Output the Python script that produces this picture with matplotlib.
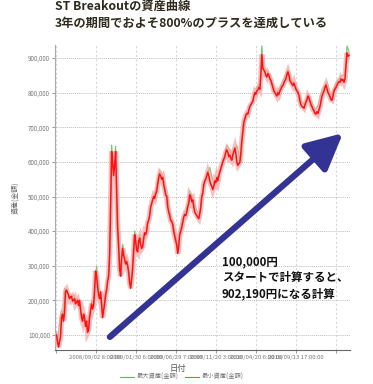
import matplotlib
matplotlib.use("Agg")
import matplotlib.pyplot as plt
from matplotlib.lines import Line2D

plt.rcParams['font.family'] = ['Noto Sans CJK JP', 'DejaVu Sans']

# minimum equity per bar (thousands of yen), bars 1..293, ticks every 40 bars
eq_min = [100, 80, 65, 80, 95, 150, 160, 140, 165, 225, 230, 222, 215, 205, 210, 212, 198, 200, 205, 190,
          195, 200, 185, 200, 175, 150, 140, 160, 150, 125, 140, 108, 115, 150, 170, 190, 175, 185, 230, 285,
          270, 240, 215, 205, 225, 190, 150, 170, 190, 215, 230, 255, 270, 330, 470, 630, 600, 560, 590, 630,
          520, 415, 360, 290, 270, 320, 350, 330, 320, 305, 312, 300, 280, 250, 235, 260, 292, 340, 390, 370,
          345, 340, 372, 380, 360, 350, 355, 380, 395, 390, 400, 425, 432, 445, 470, 480, 490, 500, 495, 508,
          515, 535, 555, 565, 560, 550, 555, 535, 520, 505, 500, 470, 455, 445, 430, 428, 418, 400, 385, 372,
          360, 335, 355, 390, 400, 410, 425, 440, 448, 445, 455, 470, 480, 505, 500, 485, 490, 470, 455, 450,
          445, 440, 436, 450, 470, 500, 510, 535, 545, 550, 560, 570, 560, 545, 535, 530, 520, 530, 545, 540,
          555, 545, 560, 570, 580, 590, 600, 608, 615, 628, 635, 628, 615, 620, 610, 605, 620, 630, 640, 625,
          600, 590, 595, 598, 625, 662, 690, 715, 725, 735, 740, 738, 750, 760, 765, 770, 775, 790, 800, 795,
          805, 808, 815, 810, 850, 910, 870, 865, 860, 850, 845, 855, 850, 840, 835, 825, 815, 805, 800, 795,
          790, 800, 795, 805, 810, 818, 820, 828, 835, 840, 852, 860, 850, 835, 830, 825, 820, 828, 818, 810,
          805, 800, 792, 775, 765, 760, 758, 755, 765, 772, 780, 790, 785, 775, 765, 760, 752, 748, 740, 738,
          745, 740, 750, 760, 775, 790, 798, 805, 815, 822, 812, 800, 795, 788, 780, 778, 790, 805, 810, 815,
          822, 828, 832, 830, 840, 835, 838, 830, 840, 880, 915, 905, 908]
bars = list(range(1, len(eq_min) + 1))

# maximum equity, read at coarser bar spacing
max_bars = [1, 2, 4, 6, 8, 9, 12, 15, 18, 20, 22, 24, 26, 28, 30, 32, 34, 36, 38, 41,
            44, 47, 49, 51, 53, 54, 55, 56, 58, 60, 61, 62, 64, 67, 69, 72, 75, 77, 79, 82,
            84, 87, 91, 94, 97, 101, 104, 107, 111, 114, 117, 120, 122, 124, 127, 131, 134, 137, 141, 144,
            147, 151, 154, 157, 159, 162, 166, 169, 171, 174, 177, 181, 184, 185, 187, 191, 194, 197, 201, 204,
            206, 207, 211, 214, 217, 221, 224, 227, 231, 232, 236, 239, 242, 246, 249, 252, 256, 259, 262, 266,
            271, 274, 276, 279, 282, 286, 289, 291, 293]
eq_max = [108, 75, 132, 170, 158, 235, 222, 206, 216, 198, 206, 182, 152, 162, 132, 117, 158, 200, 188, 298,
          218, 160, 208, 238, 276, 338, 480, 648, 578, 645, 430, 375, 282, 362, 330, 312, 245, 304, 400, 352,
          390, 358, 410, 448, 495, 524, 576, 564, 515, 458, 428, 388, 344, 402, 440, 468, 515, 496, 458, 446,
          515, 560, 584, 545, 534, 555, 594, 618, 648, 634, 620, 648, 605, 598, 678, 735, 758, 780, 816, 824,
          935, 880, 862, 852, 822, 800, 814, 835, 858, 866, 834, 822, 806, 772, 765, 796, 772, 750, 762, 808,
          830, 800, 792, 822, 838, 850, 850, 935, 918]

tick_bars = [0, 40, 80, 120, 160, 200, 240, 280]
tick_labels = ["", "2008/09/02 8:00:00", "2009/01/30 6:00:00", "2009/06/29 7:00:00",
               "2009/11/20 3:00:00", "2010/04/20 6:00:00", "2010/09/13 17:00:00", ""]
y_ticks = [100000, 200000, 300000, 400000, 500000, 600000, 700000, 800000, 900000]

lo = [v * 1000 for v in eq_min]
hi = [v * 1000 for v in eq_max]

fig = plt.figure(figsize=(3.73, 3.84), dpi=100)
ax = fig.add_axes([0.1475, 0.0885, 0.7909, 0.7943])

ax.plot(max_bars, hi, color="#7cc47c", lw=0.9, zorder=2)
ax.plot(bars, lo, color="#f8a9a9", lw=3.8, alpha=0.75, zorder=3, solid_joinstyle="miter")
ax.plot(bars, lo, color="#ff1111", lw=1.1, zorder=4)

ax.set_xlim(-0.5, 294)
ax.set_ylim(56600, 937600)
ax.set_xticks(tick_bars)
ax.set_xticklabels(tick_labels, fontsize=4.3, color="#777777")
ax.set_yticks(y_ticks)
ax.set_yticklabels([f"{v:,}" for v in y_ticks], fontsize=4.5, color="#777777")
ax.tick_params(length=2, width=0.6, color="#888888", pad=1.5)

ax.grid(axis="x", color="#d8d8d8", ls=(0, (2, 2)), lw=0.8)
ax.grid(axis="y", color="#bdbdbd", ls=(0, (1, 1)), lw=0.7)
for s in ["top", "right"]:
    ax.spines[s].set_visible(False)
ax.spines["left"].set_color("#aaaaaa")
ax.spines["left"].set_linestyle((0, (1, 1)))
ax.spines["bottom"].set_color("#666666")
ax.spines["bottom"].set_linewidth(0.8)

ax.set_ylabel("資産(金額)", fontsize=5, color="#666666")
ax.yaxis.set_label_coords(-0.12, 0.5)
ax.set_xlabel("日付", fontsize=6, color="#555555")
ax.xaxis.set_label_coords(0.415, -0.045)

handles = [Line2D([], [], color="#66b366", lw=0.8), Line2D([], [], color="#ff4d4d", lw=0.8)]
ax.legend(handles, ["最大資産(金額)", "最小資産(金額)"], loc="center", bbox_to_anchor=(0.43, -0.088),
          ncol=2, frameon=False, fontsize=4.5, labelcolor="#777777", handlelength=2.2,
          columnspacing=1.0, handletextpad=0.4)

ax.annotate("", xy=(0.976, 0.711), xytext=(0.186, 0.043), xycoords="axes fraction",
            arrowprops=dict(arrowstyle="-|>,head_length=2.2,head_width=1.1", color="#333394", lw=4.5,
                            shrinkA=0, shrinkB=0), zorder=6)

ax.text(0.566, 0.312, "100,000円\nスタートで計算すると、\n902,190円になる計算", transform=ax.transAxes,
        fontsize=8.3, fontweight="bold", color="#111111", va="top", ha="left", linespacing=1.3, zorder=7)

fig.text(0.147, 0.997, "ST Breakoutの資産曲線\n3年の期間でおよそ800%のプラスを達成している",
         fontsize=8.8, fontweight="bold", color="#2e2a1e", va="top", ha="left", linespacing=1.25)

fig.savefig("out.png", dpi=100)
